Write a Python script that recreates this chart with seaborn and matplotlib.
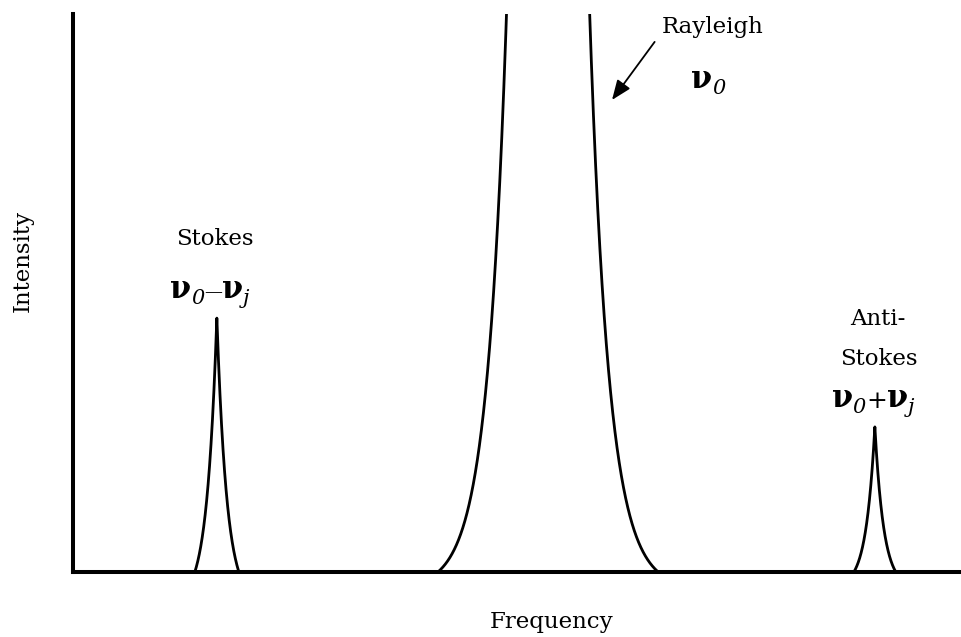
import numpy as np
import pandas as pd
import matplotlib
matplotlib.use("Agg")
import matplotlib.pyplot as plt
import seaborn as sns

# Schematic Raman spectrum: one strong elastic line and two weak shifted lines
peak_names = ["Stokes", "Rayleigh", "Anti-Stokes"]
peak_centers = [16.2, 53.5, 90.3]      # frequency (arbitrary units, 0-100)
peak_heights = [45.5, 863.0, 26.0]     # intensity (arbitrary units, axis shows 0-100)
peak_decay = [1.13, 2.2, 1.01]         # exponential fall-off of each line
peak_reach = [2.48, 12.4, 2.36]        # half-width where each line meets the baseline

sns.set_theme(style="white")
plt.rcParams["font.family"] = ["DejaVu Serif"]
plt.rcParams["text.color"] = "black"


def line_profile(center, height, decay, reach, n=4001):
    x = np.linspace(center - reach, center + reach, n)
    d = np.abs(x - center)
    floor = np.exp(-reach / decay)
    y = height * (np.exp(-d / decay) - floor) / (1.0 - floor)
    return x, np.clip(y, 0, None)


frames = []
for name, c, h, w, r in zip(peak_names, peak_centers, peak_heights, peak_decay, peak_reach):
    x, y = line_profile(c, h, w, r)
    frames.append(pd.DataFrame({"Frequency": x, "Intensity": y, "peak": name}))
spectrum = pd.concat(frames, ignore_index=True)

W, H = 961, 637
fig = plt.figure(figsize=(W / 100, H / 100), dpi=100)
ax = fig.add_axes([73 / W, 65 / H, (W - 73) / W, 558 / H])

sns.lineplot(data=spectrum, x="Frequency", y="Intensity", units="peak",
             estimator=None, sort=False, color="black", lw=2.0, ax=ax)

ax.set_xlim(0, 100)
ax.set_ylim(0, 100)
ax.set_xticks([])
ax.set_yticks([])
ax.set_xlabel("")
ax.set_ylabel("")
sns.despine(ax=ax, top=True, right=True)
for side in ("left", "bottom"):
    ax.spines[side].set_linewidth(2.9)
    ax.spines[side].set_color("black")
    ax.spines[side].set_capstyle("projecting")

renderer = fig.canvas.get_renderer()


def text_run(x, y, pieces):
    """Place a row of differently styled text pieces centred on (x, y) baseline."""
    widths = []
    for s, size, style, weight, dy in pieces:
        t = ax.text(0, 0, s, fontsize=size, fontstyle=style, fontweight=weight)
        widths.append(t.get_window_extent(renderer).width)
        t.remove()
    off = -sum(widths) / 2.0
    for (s, size, style, weight, dy), w in zip(pieces, widths):
        ax.annotate(s, xy=(x, y), xycoords="data", xytext=(off, dy),
                    textcoords="offset pixels", ha="left", va="baseline",
                    fontsize=size, fontstyle=style, fontweight=weight,
                    color="black", annotation_clip=False)
        off += w


label_size = 16.5
nu_size = 22
sub_size = 15

# Rayleigh line
ax.text(72.0, 96.6, "Rayleigh", fontsize=label_size, ha="center", va="baseline")
text_run(71.5, 86.7, [("ν", nu_size, "normal", "bold", 0),
                      ("0", sub_size, "italic", "normal", -6)])
ax.annotate("", xy=(60.7, 84.6), xytext=(65.5, 95.0), xycoords="data",
            arrowprops=dict(arrowstyle="-|>,head_length=0.6,head_width=0.24",
                            mutation_scale=20, lw=1.3, color="black",
                            shrinkA=0, shrinkB=0))

# Stokes line
ax.text(16.0, 58.6, "Stokes", fontsize=label_size, ha="center", va="baseline")
text_run(15.4, 49.1, [("ν", nu_size, "normal", "bold", 0),
                      ("0", sub_size, "italic", "normal", -6),
                      ("—", 13, "normal", "normal", 1),
                      ("ν", nu_size, "normal", "bold", 0),
                      ("j", sub_size, "italic", "normal", -6)])

# Anti-Stokes line
ax.text(90.65, 44.3, "Anti-", fontsize=label_size, ha="center", va="baseline")
ax.text(90.7, 37.1, "Stokes", fontsize=label_size, ha="center", va="baseline")
text_run(90.1, 29.6, [("ν", nu_size, "normal", "bold", 0),
                      ("0", sub_size, "italic", "normal", -6),
                      ("+", 18, "normal", "normal", -1),
                      ("ν", nu_size, "normal", "bold", 0),
                      ("j", sub_size, "italic", "normal", -6)])

# Axis titles
fig.text(552 / W, 1 - 622 / H, "Frequency", fontsize=label_size, ha="center", va="center")
fig.text(23 / W, 1 - 261 / H, "Intensity", fontsize=label_size, rotation=90,
         ha="center", va="center")

fig.savefig("out.png", dpi=100, facecolor="white")
